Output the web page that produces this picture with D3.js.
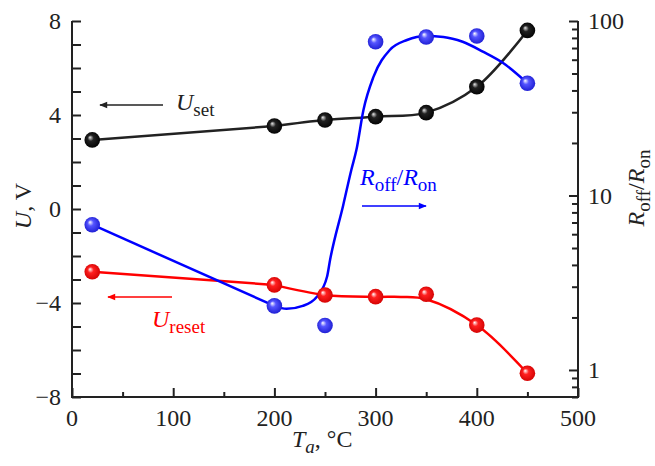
<!DOCTYPE html>
<meta charset="utf-8">
<style>
body { margin: 0; background: #fff; }
text { font-family: "Liberation Serif", "Times New Roman", serif; fill: #222; }
.axis line, .axis path { stroke: #222; stroke-width: 2px; fill: none; }
</style>
<svg width="655" height="466"></svg>
<script src="https://cdn.jsdelivr.net/npm/d3@7"></script>
<script>

// annealing temperature, deg C
var temps = [20, 200, 250, 300, 350, 400, 450];
// set / reset voltages, V (left axis)
var uSet   = [2.94, 3.53, 3.79, 3.93, 4.1, 5.2, 7.6];
var uReset = [-2.67, -3.23, -3.66, -3.73, -3.63, -4.94, -6.99];
// Roff/Ron ratio (right axis, log)
var ratio  = [6.8, 2.33, 1.8, 76, 81, 82, 44];
// smoothed curves
var fitT   = [200, 212, 228, 242, 252, 255, 268, 276, 281, 288, 298, 314, 331, 350, 367, 386, 406, 426, 450];
var fitR   = [2.33, 2.24, 2.33, 2.63, 3.42, 4.27, 8.8, 14, 18.2, 30.9, 48, 68.2, 77.8, 82, 81, 76, 66.7, 57.4, 44];
var resetFitT = [200, 250, 300, 325, 350, 400, 450];
var resetFitU = [-3.23, -3.66, -3.74, -3.74, -3.84, -4.94, -6.99];

var xTicks = [0, 100, 200, 300, 400, 500];
var xMinor = [50, 150, 250, 350, 450];
var yTicks = [-8, -4, 0, 4, 8];
var yMinor = [-7, -6, -5, -3, -2, -1, 1, 2, 3, 5, 6, 7];
var rTicks = [1, 10, 100];
var rMinor = [0.7, 0.8, 0.9, 2, 3, 4, 5, 6, 7, 8, 9, 20, 30, 40, 50, 60, 70, 80, 90];

var svg = d3.select("svg");

var x  = d3.scaleLinear().domain([0, 500]).range([72, 578]);
var yL = d3.scaleLinear().domain([-8, 8]).range([397, 21]);
var yR = d3.scaleLog().domain([0.7, 100]).range([397, 21]);

var fmt = function(d) { return d < 0 ? "\u2212" + Math.abs(d) : d; };

// gradients for the shaded balls
var defs = svg.append("defs");
function ball(id, hi, mid, dark) {
  var g = defs.append("radialGradient").attr("id", id)
      .attr("cx", "0.5").attr("cy", "0.5").attr("r", "0.55")
      .attr("fx", "0.35").attr("fy", "0.33");
  g.append("stop").attr("offset", "0").attr("stop-color", hi);
  g.append("stop").attr("offset", "0.35").attr("stop-color", mid);
  g.append("stop").attr("offset", "1").attr("stop-color", dark);
}
ball("gBlack", "#e8e8e8", "#222", "#000");
ball("gBlue", "#ffffff", "#5555ff", "#1a1ad0");
ball("gRed", "#ffffff", "#ff2020", "#d00000");

function arrowHead(id, color) {
  defs.append("marker").attr("id", id)
      .attr("viewBox", "0 0 10 10").attr("refX", 9).attr("refY", 5)
      .attr("markerWidth", 12).attr("markerHeight", 8).attr("markerUnits", "userSpaceOnUse")
      .attr("orient", "auto")
    .append("path").attr("d", "M0,1L10,5L0,9z").attr("fill", color);
}
arrowHead("arrK", "#222");
arrowHead("arrB", "#0000ff");
arrowHead("arrR", "#ff0000");

// axes (ticks pointing inward)
var axB = svg.append("g").attr("class", "axis").attr("transform", "translate(0,397)");
axB.call(d3.axisBottom(x).tickValues(xTicks).tickSize(-9).tickFormat(""));
axB.append("g").call(d3.axisBottom(x).tickValues(xMinor).tickSize(-5).tickFormat(""));
axB.selectAll(".domain").attr("d", "M72,0H578");
axB.selectAll("text").remove();
svg.selectAll(".xl").data(xTicks).enter().append("text")
    .attr("x", function(d) { return x(d); }).attr("y", 426)
    .attr("text-anchor", "middle").attr("font-size", 24).text(function(d) { return d; });

var axL = svg.append("g").attr("class", "axis").attr("transform", "translate(72,0)");
axL.call(d3.axisLeft(yL).tickValues(yTicks.concat(yMinor)).tickSize(-9).tickFormat(""));
axL.selectAll(".domain").attr("d", "M0,21V398");
svg.selectAll(".yl").data(yTicks).enter().append("text")
    .attr("x", 61).attr("y", function(d) { return yL(d); }).attr("dy", "0.35em")
    .attr("text-anchor", "end").attr("font-size", 24).text(fmt);

var axR = svg.append("g").attr("class", "axis").attr("transform", "translate(578,0)");
axR.call(d3.axisRight(yR).tickValues(rTicks).tickSize(-9).tickFormat(""));
axR.append("g").call(d3.axisRight(yR).tickValues(rMinor).tickSize(-6).tickFormat(""));
axR.selectAll(".domain").attr("d", "M0,21V398");
svg.selectAll(".rl").data(rTicks).enter().append("text")
    .attr("x", 588).attr("y", function(d) { return yR(d); }).attr("dy", "0.35em")
    .attr("font-size", 24).text(function(d) { return d; });

// text with a subscript: parts = [[text, italic, sub], ...]
function label(sel, parts) {
  var shifted = false;
  parts.forEach(function(p) {
    var t = sel.append("tspan").text(p[0]);
    if (p[1]) t.attr("font-style", "italic");
    if (p[2] && !shifted) { t.attr("font-size", 19).attr("dy", 6); shifted = true; }
    else if (p[2]) t.attr("font-size", 19);
    else if (shifted) { t.attr("dy", -6); shifted = false; }
  });
}

// axis titles
label(svg.append("text").attr("x", 292).attr("y", 447).attr("font-size", 24),
  [["T", true, false], ["a", true, true], [", \u00B0C", false, false]]);

label(svg.append("text").attr("transform", "translate(31,206) rotate(-90)")
    .attr("text-anchor", "middle").attr("font-size", 24),
  [["U", true, false], [", V", false, false]]);

label(svg.append("text").attr("transform", "translate(644,188) rotate(-90)")
    .attr("text-anchor", "middle").attr("font-size", 24),
  [["R", true, false], ["off", false, true], ["/", false, false], ["R", true, false], ["on", false, true]]);

// lines
var lineL = d3.line().x(function(d) { return x(d[0]); }).y(function(d) { return yL(d[1]); });
var curveL = d3.line().curve(d3.curveCatmullRom.alpha(0.5))
    .x(function(d) { return x(d[0]); }).y(function(d) { return yL(d[1]); });
var lineR = d3.line().x(function(d) { return x(d[0]); }).y(function(d) { return yR(d[1]); });
var curveR = d3.line().curve(d3.curveMonotoneX)
    .x(function(d) { return x(d[0]); }).y(function(d) { return yR(d[1]); });

var setPts = d3.zip(temps, uSet);
var resetPts = d3.zip(temps, uReset);
var ratioPts = d3.zip(temps, ratio);

function draw(path, color) {
  svg.append("path").attr("d", path).attr("fill", "none")
      .attr("stroke", color).attr("stroke-width", 2.5);
}
draw(lineL(setPts.slice(0, 2)), "#222");
draw(curveL(setPts.slice(1)), "#222");
draw(lineL(resetPts.slice(0, 2)), "#ff0000");
draw(curveL(d3.zip(resetFitT, resetFitU)), "#ff0000");
draw(lineR(ratioPts.slice(0, 2)), "#0000ff");
draw(curveR(d3.zip(fitT, fitR)), "#0000ff");

// balls
function balls(pts, yScale, grad) {
  svg.append("g").selectAll("circle").data(pts).enter().append("circle")
      .attr("cx", function(d) { return x(d[0]); })
      .attr("cy", function(d) { return yScale(d[1]); })
      .attr("r", 7.8).attr("fill", "url(#" + grad + ")");
}
balls(setPts, yL, "gBlack");
balls(ratioPts, yR, "gBlue");
balls(resetPts, yL, "gRed");

// annotations
svg.append("line").attr("x1", 163).attr("y1", 105).attr("x2", 100).attr("y2", 105)
    .attr("stroke", "#222").attr("stroke-width", 1.5).attr("marker-end", "url(#arrK)");
label(svg.append("text").attr("x", 176).attr("y", 110).attr("font-size", 24),
  [["U", true, false], ["set", false, true]]);

svg.append("line").attr("x1", 172).attr("y1", 297).attr("x2", 108).attr("y2", 297)
    .attr("stroke", "#ff0000").attr("stroke-width", 1.5).attr("marker-end", "url(#arrR)");
label(svg.append("text").attr("x", 152).attr("y", 327).attr("font-size", 24).style("fill", "#ff0000"),
  [["U", true, false], ["reset", false, true]]);

svg.append("line").attr("x1", 362).attr("y1", 206).attr("x2", 426).attr("y2", 206)
    .attr("stroke", "#0000ff").attr("stroke-width", 1.5).attr("marker-end", "url(#arrB)");
label(svg.append("text").attr("x", 360).attr("y", 185).attr("font-size", 24).style("fill", "#0000ff"),
  [["R", true, false], ["off", false, true], ["/", false, false], ["R", true, false], ["on", false, true]]);

</script>
